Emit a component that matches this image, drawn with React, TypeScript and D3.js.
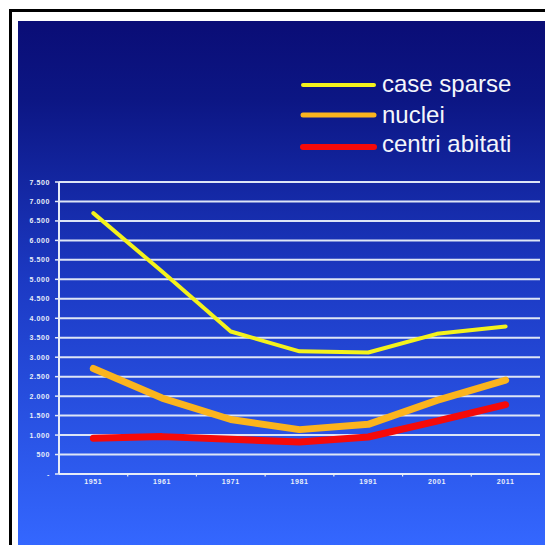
import React from "react";
import * as d3 from "d3";

const years = ["1951", "1961", "1971", "1981", "1991", "2001", "2011"];
const caseSparse = [6700, 5200, 3660, 3150, 3120, 3600, 3790];
const nuclei = [2710, 1950, 1400, 1140, 1275, 1890, 2410];
const centriAbitati = [920, 960, 890, 820, 950, 1360, 1780];
const yTicks = [0, 500, 1000, 1500, 2000, 2500, 3000, 3500, 4000, 4500, 5000, 5500, 6000, 6500, 7000, 7500];
const seriesNames = ["case sparse", "nuclei", "centri abitati"];

const W = 545;
const H = 545;
const plotLeft = 59;
const plotRight = 540;
const plotTop = 182;
const plotBottom = 474;

const colors = ["#f4f21c", "#fbb41e", "#f50a0a"];
const widths = [4, 7, 7];
const legendWidths = [4, 5, 6];

function fmt(v: number): string {
  if (v === 0) return "-";
  return d3.format(",")(v).replace(/,/g, ".");
}

export default function App() {
  const x = d3.scaleBand<string>().domain(years).range([plotLeft, plotRight]).padding(0);
  const y = d3.scaleLinear().domain([0, 7500]).range([plotBottom, plotTop]);
  const line = d3
    .line<number>()
    .x((_, i) => (x(years[i]) as number) + x.bandwidth() / 2)
    .y((d) => y(d));
  const series = [caseSparse, nuclei, centriAbitati];

  return (
    <svg
      width={W}
      height={H}
      style={{ position: "absolute", left: 0, top: 0, background: "#ffffff" }}
      fontFamily="'Liberation Sans', Arial, sans-serif"
    >
      <defs>
        <linearGradient id="bg" x1="0" y1="0" x2="0" y2="1">
          <stop offset="0" stopColor="#0a0d76" />
          <stop offset="0.15" stopColor="#0c1684" />
          <stop offset="0.5" stopColor="#1c3ac4" />
          <stop offset="1" stopColor="#3467ff" />
        </linearGradient>
      </defs>
      <rect x={10.5} y={10.5} width={W} height={H} fill="#ffffff" stroke="#000000" strokeWidth={3} />
      <rect x={18} y={21} width={W - 18} height={H - 21} fill="url(#bg)" />

      {/* gridlines */}
      {yTicks.map((t) =>
        t === 0 ? null : (
          <line key={"g" + t} x1={plotLeft} x2={plotRight} y1={y(t)} y2={y(t)} stroke="#dde5f6" strokeWidth={2} />
        )
      )}
      {/* y axis */}
      <line x1={plotLeft} x2={plotLeft} y1={plotTop} y2={plotBottom} stroke="#e6ecf8" strokeWidth={2} />
      {yTicks.map((t) => (
        <g key={"yt" + t}>
          <line x1={plotLeft - 4} x2={plotLeft} y1={y(t)} y2={y(t)} stroke="#e6ecf8" strokeWidth={1.5} />
          <text
            x={50}
            y={y(t) + 2.5}
            textAnchor="end"
            fontSize={7}
            fontWeight="bold"
            letterSpacing={0.6}
            fill="#e8eefa"
          >
            {fmt(t)}
          </text>
        </g>
      ))}
      {/* x axis */}
      <line x1={plotLeft} x2={plotRight} y1={plotBottom} y2={plotBottom} stroke="#e6ecf8" strokeWidth={2} />
      {years.slice(1).map((yr) => (
        <line
          key={"xt" + yr}
          x1={x(yr) as number}
          x2={x(yr) as number}
          y1={plotBottom}
          y2={plotBottom + 2.5}
          stroke="#e6ecf8"
          strokeWidth={1.2}
        />
      ))}
      {years.map((yr) => (
        <text
          key={"xl" + yr}
          x={(x(yr) as number) + x.bandwidth() / 2}
          y={plotBottom + 10}
          textAnchor="middle"
          fontSize={7}
          fontWeight="bold"
          letterSpacing={0.6}
          fill="#e8eefa"
        >
          {yr}
        </text>
      ))}

      {/* lines */}
      {series.map((s, i) => (
        <path
          key={"s" + i}
          d={line(s) || ""}
          fill="none"
          stroke={colors[i]}
          strokeWidth={widths[i]}
          strokeLinejoin="round"
          strokeLinecap="round"
        />
      ))}

      {/* legend */}
      {seriesNames.map((n, i) => {
        const ly = [85, 115, 147][i];
        const ty = [92, 123, 152][i];
        return (
          <g key={"lg" + i}>
            <line
              x1={303}
              x2={374}
              y1={ly}
              y2={ly}
              stroke={colors[i]}
              strokeWidth={legendWidths[i]}
              strokeLinecap="round"
            />
            <text x={382} y={ty} fontSize={24} fill="#f4f6fb">
              {n}
            </text>
          </g>
        );
      })}
    </svg>
  );
}
